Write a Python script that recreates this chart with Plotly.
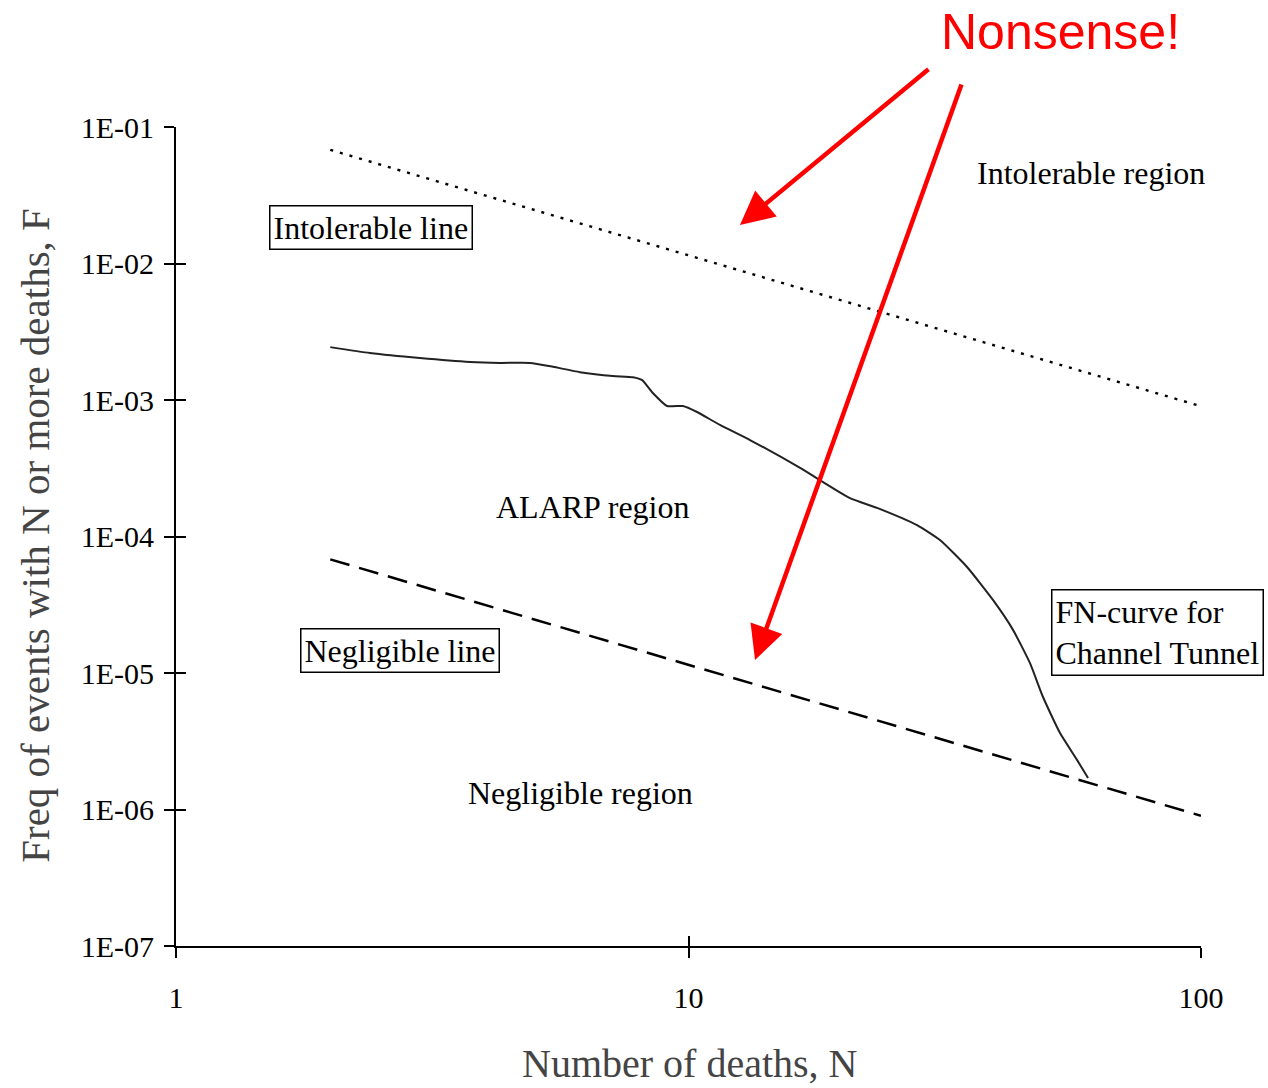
import plotly.graph_objects as go

# Data
intol_N = [2, 100]
intol_F = [0.068, 9.0e-4]

neg_N = [2, 100]
neg_F = [6.8e-5, 9.0e-7]

fn_N = [2.00, 2.39, 2.99, 3.75, 4.29, 4.91, 5.44, 6.14, 7.12, 7.79, 8.12, 8.52, 9.08,
        9.75, 10.39, 11.52, 13.18, 16.51, 20.66, 23.33, 27.92, 30.95, 34.95, 39.27,
        42.97, 46.38, 49.17, 53.08, 57.29, 60.20]
fn_F = [2.44e-3, 2.21e-3, 2.03e-3, 1.90e-3, 1.87e-3, 1.87e-3, 1.75e-3, 1.60e-3, 1.50e-3,
        1.47e-3, 1.40e-3, 1.125e-3, 9.04e-4, 9.04e-4, 8.17e-4, 6.56e-4, 5.09e-4, 3.18e-4,
        1.91e-4, 1.62e-4, 1.21e-4, 9.42e-5, 5.98e-5, 3.43e-5, 2.07e-5, 1.18e-5, 6.67e-6,
        3.63e-6, 2.31e-6, 1.70e-6]

x_ticks = [1, 10, 100]
x_ticktext = ["1", "10", "100"]
y_ticks = [1e-1, 1e-2, 1e-3, 1e-4, 1e-5, 1e-6, 1e-7]
y_ticktext = ["1E-01", "1E-02", "1E-03", "1E-04", "1E-05", "1E-06", "1E-07"]

SERIF = "Liberation Serif"

fig = go.Figure()
fig.add_trace(go.Scatter(x=intol_N, y=intol_F, mode="lines",
                         line=dict(color="black", width=2.4, dash="3px,7px"),
                         showlegend=False, hoverinfo="skip"))
fig.add_trace(go.Scatter(x=neg_N, y=neg_F, mode="lines",
                         line=dict(color="black", width=2.5, dash="20px,10px"),
                         showlegend=False, hoverinfo="skip"))
fig.add_trace(go.Scatter(x=fn_N, y=fn_F, mode="lines",
                         line=dict(color="#222", width=2, shape="spline", smoothing=0.5),
                         showlegend=False, hoverinfo="skip"))
# invisible trace to show the overlaid axes (inside half of the crossing ticks)
fig.add_trace(go.Scatter(x=[1, 100], y=[1e-7, 1e-1], xaxis="x2", yaxis="y2", mode="markers",
                         marker=dict(opacity=0), showlegend=False, hoverinfo="skip"))

axis_common = dict(showgrid=False, zeroline=False, showline=True, linecolor="black",
                   linewidth=2, tickcolor="black", tickwidth=2, ticklen=10)

fig.update_layout(
    width=1268, height=1088,
    margin=dict(l=176, r=67, t=127, b=142),
    paper_bgcolor="white", plot_bgcolor="white",
    font=dict(family=SERIF, color="black", size=30),
    xaxis=dict(type="log", range=[0, 2], tickvals=x_ticks, ticktext=x_ticktext,
               ticks="outside", ticklabelstandoff=14,
               tickfont=dict(size=30, family=SERIF, color="black"), **axis_common),
    yaxis=dict(type="log", range=[-7, -1], tickvals=y_ticks, ticktext=y_ticktext,
               ticks="outside", ticklabelstandoff=4,
               tickfont=dict(size=30, family=SERIF, color="black"), **axis_common),
    xaxis2=dict(type="log", range=[0, 2], tickvals=x_ticks, overlaying="x", anchor="y2",
                side="bottom", ticks="inside", showticklabels=False, **axis_common),
    yaxis2=dict(type="log", range=[-7, -1], tickvals=y_ticks, overlaying="y", anchor="x2",
                side="left", ticks="inside", showticklabels=False, **axis_common),
)

text_font = dict(family=SERIF, size=32, color="black")
ann = []
# Axis titles
ann.append(dict(text="Number of deaths, N", xref="paper", yref="paper", x=0.501, y=-0.143,
                xanchor="center", yanchor="middle", showarrow=False,
                font=dict(family=SERIF, size=40, color="#444")))
ann.append(dict(text="Freq of events with N or more deaths, F", xref="paper", yref="paper",
                x=-0.1376, y=0.502, xanchor="center", yanchor="middle", textangle=-90,
                showarrow=False, font=dict(family=SERIF, size=41, color="#444")))
# Boxed labels
box = dict(showarrow=False, font=text_font, bordercolor="black", borderwidth=1.5,
           borderpad=3, bgcolor="white", xref="x", yref="y",
           xanchor="center", yanchor="middle")
ann.append(dict(text="Intolerable line", x=0.3805, y=-1.733, **box))
ann.append(dict(text="Negligible line", x=0.437, y=-4.832, **box))
ann.append(dict(text="FN-curve for<br>Channel Tunnel", x=1.916, y=-4.70, align="left", **box))
# Region labels
reg = dict(showarrow=False, font=text_font, xref="x", yref="y",
           xanchor="center", yanchor="middle")
ann.append(dict(text="Intolerable region", x=1.785, y=-1.337, **reg))
ann.append(dict(text="ALARP region", x=0.8117, y=-3.784, **reg))
ann.append(dict(text="Negligible region", x=0.790, y=-5.879, **reg))
# Nonsense callout
ann.append(dict(text="Nonsense!", xref="paper", yref="paper", x=0.863, y=1.116,
                xanchor="center", yanchor="middle", showarrow=False,
                font=dict(family="Liberation Sans", size=50, color="#ff0000")))
ann.append(dict(text="", xref="paper", yref="paper", x=0.5502, y=0.8803, ax=190, ay=-157,
                showarrow=True, arrowhead=2, arrowsize=1.5, arrowwidth=4.5, arrowcolor="#ff0000"))
ann.append(dict(text="", xref="paper", yref="paper", x=0.5649, y=0.3492, ax=207, ay=-577,
                showarrow=True, arrowhead=2, arrowsize=1.5, arrowwidth=4.5, arrowcolor="#ff0000"))
fig.update_layout(annotations=ann)

fig.write_html("out.html")
